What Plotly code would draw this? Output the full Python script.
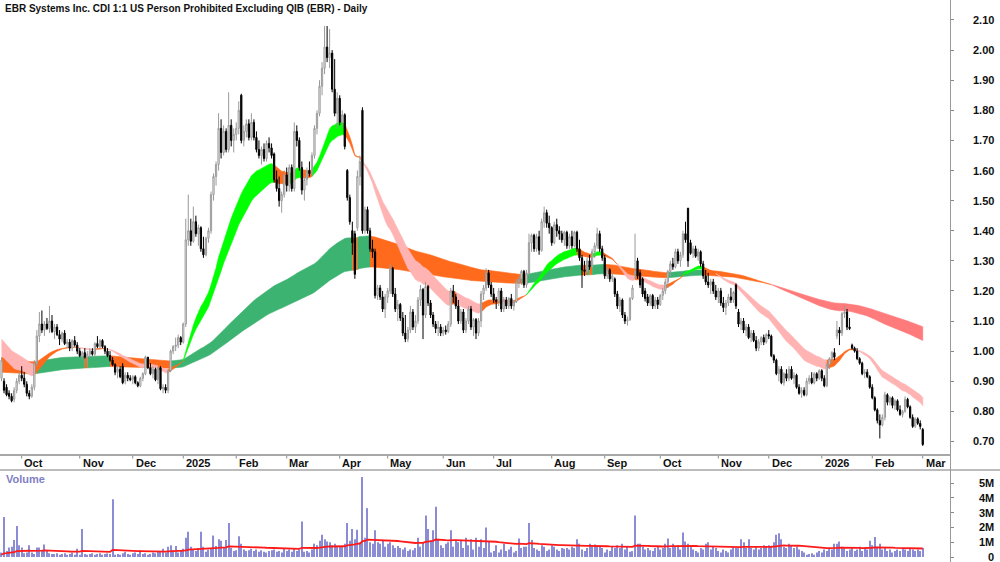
import numpy as np
import pandas as pd
import plotly.graph_objects as go

# ---------------- data (prices in cents, volume in thousands) ----------------
open_c = [
    91, 90, 88, 86, 85, 84, 87, 90,  # Sep 24
    92, 91, 89, 86, 85, 88, 96, 105, 109, 107, 109, 107.5, 110, 106.5, 108, 105.5, 104, 106, 102.5, 103, 101, 103.5, 102,  # Oct
    100, 98.5, 99.5, 98, 99, 100, 99, 102.5, 101.5, 103.5, 101.5, 100, 98.5, 97, 95.5, 93, 94, 95, 90, 92, 91,  # Nov
    90.5, 91.5, 89.5, 88.5, 91, 92.5, 98, 94.5, 92.5, 94, 90.5, 94.5, 87.5, 88, 87, 93.5, 100, 101.5, 102, 104.5,  # Dec
    103, 109, 137, 140, 136.5, 143, 139, 141, 134, 132, 137.5, 140, 152, 158, 162, 174, 166, 173, 167, 175, 170,  # Jan 25
    172, 174, 185, 170, 173, 175.5, 171, 176, 171, 167, 165, 167, 164, 169, 167.5, 165.5, 157, 154, 150, 152,  # Feb
    158.5, 155, 161, 154, 173, 170, 161, 153.5, 157, 160, 159, 165, 174, 179, 188, 194, 201, 197.5, 199, 187, 179,  # Mar
    184, 176, 178.5, 160, 151, 140, 139, 141, 158, 180, 140, 147, 140, 134, 133, 118.5, 121, 118, 114,  # Apr
    118, 120, 127.5, 119, 114, 115.5, 111, 106, 104, 107, 113, 108, 110, 117, 120.5, 112, 121.5, 116, 112, 109, 107.5, 108,  # May
    106, 107, 106.5, 109, 120, 118, 115, 110, 113, 107, 110, 114, 108, 110.5, 106, 110, 119, 121, 126, 122,  # Jun
    119, 117, 116.5, 120, 114, 117, 115, 117.5, 115, 116.5, 123, 124, 126.5, 122, 126, 136, 138.5, 134, 138, 133.5, 143, 146, 142.5,  # Jul
    141, 136, 142, 140, 139, 137, 139.5, 135, 138, 135, 139.5, 134, 131, 127, 126.5, 130, 128, 133, 135, 139, 134,  # Aug
    131, 125, 127, 124, 124, 119, 115, 117, 112, 110, 110.5, 117.5, 125.5, 130, 126, 124, 120, 118, 116, 118.5, 115, 117,  # Sep
    115.5, 118.5, 120, 123, 126.5, 129, 128, 133, 130, 132, 139, 147.5, 136, 132.5, 134, 131.5, 133, 129, 125, 123, 122, 123, 120,  # Oct
    118, 120, 116, 114.5, 116, 118, 117, 122, 113, 109, 110, 107, 108, 104.5, 106, 103.5, 101, 103, 104.5, 103,  # Nov
    105.5, 105, 98.5, 97, 92.5, 94, 89.5, 92.5, 91, 94, 91, 92, 88, 86, 87, 85.5, 90, 91, 89.5, 92.5, 91,  # Dec
    93.5, 91, 88.5, 95.5, 97.5, 99.5, 105, 107, 106, 112.5, 113, 108, 102, 101, 100, 97.5, 96, 92.5, 93, 91.5,  # Jan 26
    88, 84.5, 80.5, 77, 75.5, 78, 85.5, 83, 84.5, 82, 83.5, 80.5, 79, 80, 84, 81.5, 78, 75, 77.5, 76,  # Feb
    74,  # Mar
]
high_c = [
    98, 91, 89, 87, 86, 88, 91, 93,
    95, 93, 90, 87, 89, 97, 107, 113, 113.5, 110, 111, 115, 112, 109, 109, 107, 106.5, 107, 104, 104, 104, 105, 103,
    101, 100, 101, 100, 101, 101, 103, 105, 104, 104, 102, 101, 100, 98, 96, 95, 95, 96, 93, 93, 92,
    92, 92, 90, 91.5, 93, 98.5, 98, 96, 95, 94.5, 95, 95, 89, 89, 94, 100.5, 102, 104.5, 105.5, 105,
    109.5, 144, 152, 144, 148, 145, 142, 141.5, 138, 138, 141, 153, 159, 163, 179, 177, 175, 174, 186, 177, 174,
    176, 183, 185.5, 175, 177, 177, 179, 177, 173, 170, 168, 169, 170, 171, 169, 166, 160, 158, 153, 160,
    161, 162, 162, 176, 175, 171, 163, 158, 161, 163, 166, 175, 180, 190, 196, 208, 208, 207, 200, 197, 186,
    185, 180, 179, 160.5, 152, 143, 140, 160, 165, 181, 148, 148, 141, 137, 134, 122, 122, 120, 119,
    121, 129, 128, 121, 117, 116, 113, 112, 108, 115, 114, 112, 118, 122, 121, 123, 122, 117, 113, 110, 110, 109,
    108, 108.5, 110, 121, 122, 119, 117, 114, 114, 111, 115, 115, 111, 111, 111, 120, 122, 127.5, 127, 123,
    121, 118, 121, 121, 118, 118, 118, 119, 117, 124, 125, 127, 127, 127, 139, 139, 139, 139, 140, 144, 148, 147, 145,
    141.5, 143, 144, 141.5, 140, 140, 140, 139, 140, 140, 140, 137, 132, 130, 131, 132, 134, 136, 141, 140, 135,
    132, 128, 127.5, 126, 124.5, 120, 118, 117.5, 113, 111.5, 118, 122, 139, 131, 127, 124.5, 121, 119, 119, 119, 118, 118,
    119, 121, 124, 127, 130, 131, 134, 134, 133, 140, 143, 147.5, 137, 135, 135, 134, 133.5, 130, 127, 126, 124, 124, 122,
    121, 121, 118, 117, 119, 121, 120, 122.5, 114, 111, 111, 109, 109, 107, 107, 105, 104, 105, 105.5, 106,
    107, 105.5, 99, 97.5, 95, 95, 93, 94, 95, 95, 93, 92.5, 89, 88, 88, 91, 92, 93, 93, 93, 94,
    94, 92, 96, 98, 100, 101, 110, 108, 113, 115, 114, 111, 102.5, 101.5, 101, 98, 96.5, 94, 94, 92,
    89, 85, 81, 79, 79, 86.5, 86, 85, 85, 84, 84, 82, 80.5, 85, 84.5, 82, 79, 78, 78, 77,
    74.5,
]
low_c = [
    90, 86, 85, 84, 83, 83, 86, 89,
    90, 88, 85, 84, 84.5, 87, 95, 103, 106, 105, 107, 106, 106, 104, 105, 102, 103, 102, 101, 100, 100, 101.5, 99,
    98, 97, 97.5, 96, 98, 98.5, 98, 101, 100.5, 101, 99, 98, 96.5, 95, 92, 91, 91, 89, 89, 90, 90,
    89, 89, 88, 88, 90, 92, 94, 92, 91, 90, 89, 87, 86, 86, 86, 93, 99, 100, 101, 102,
    102.5, 108, 135, 135, 136, 138, 135, 133, 131, 131.5, 136, 139, 150, 155, 160, 164, 165, 166, 166, 168, 166,
    170, 172, 169, 168, 171, 170, 170, 170, 166, 164, 162, 163, 163, 166, 164, 156, 153, 148, 146, 151,
    153, 153, 153, 153, 168, 160, 152, 150, 155, 158, 158, 164, 172, 178, 185, 192, 196, 194, 186, 178, 174,
    175, 174, 167, 150, 142, 132, 124, 140, 155, 139, 139, 139, 133, 131, 117.5, 117, 117, 113, 111,
    116, 119, 118, 113, 110, 110, 105, 103, 103, 106, 107, 106, 109, 115, 104, 111, 115, 111, 108, 106, 105, 105,
    105, 105.5, 106, 108, 116, 114, 109, 109, 106, 106, 109, 107, 105, 104, 105, 108, 117, 120, 121, 118,
    116, 114, 115, 113, 113, 114, 114, 114, 113.5, 116, 121, 122, 121, 121, 125, 133, 133, 133, 132, 133, 141, 141, 139,
    135, 135.5, 138, 137, 136, 135, 134, 134, 134, 134.5, 133, 130, 121, 125, 126, 127, 127.5, 131, 134, 133, 130,
    124, 124, 123, 123, 118, 114, 113, 111, 109, 108.5, 110, 117, 124, 124, 121, 118, 116.5, 115, 115, 114, 114, 114,
    115, 117, 119, 121, 125, 127, 127.5, 129, 128, 131, 136, 128, 132, 131, 131, 130, 128, 124, 122, 121, 119, 119, 117,
    116, 115, 113, 112, 115, 116, 116, 114, 108, 107, 106, 105, 104, 103, 103, 100, 100, 102, 102, 102.5,
    104, 98, 96, 92, 90, 89, 88.5, 90, 90, 90.5, 89, 87.5, 85.5, 84.5, 85, 85, 89, 89, 89, 90, 90.5,
    90, 88, 88, 94, 96, 97, 104, 102, 105, 111, 107, 107, 100.5, 99.5, 97, 95.5, 92, 91, 91, 87.5,
    84, 80, 76, 71, 75, 77, 82, 82, 81, 80.5, 80, 78.5, 78, 79.5, 81, 77.5, 74.5, 74.5, 75.5, 74,
    68.5,
]
close_c = [
    97, 87, 85.5, 85, 83.5, 87, 90, 92,
    91, 89, 86, 85, 88, 96, 105, 109, 107, 109, 107.5, 110, 106.5, 108, 105.5, 104, 106, 102.5, 103, 101, 103.5, 102, 100,
    98.5, 99.5, 98, 99, 100, 99, 102.5, 101.5, 103.5, 101.5, 100, 98.5, 97, 95.5, 93, 94, 91.5, 89.5, 92, 91, 90.5,
    91.5, 89.5, 88.5, 91, 92.5, 98, 94.5, 92.5, 94, 90.5, 94.5, 87.5, 88, 87, 93.5, 100, 101.5, 102, 104.5, 103,
    109, 137, 140, 136.5, 143, 139, 141, 134, 132, 137.5, 140, 152, 158, 162, 174, 166, 173, 167, 175, 170, 172,
    174, 180, 170, 173, 175.5, 171, 176, 171, 167, 165, 167, 164, 169, 167.5, 165, 157, 154, 150, 152, 158.5,
    155, 161, 154, 173, 170, 161, 153.5, 157, 160, 159, 165, 174, 179, 188, 194, 201, 197.5, 199, 187, 179, 184,
    176, 178.5, 168, 151, 143, 136, 125.5, 158, 163, 140, 147, 140, 134, 133, 118.5, 121, 118, 114, 118,
    120, 127.5, 119, 114, 115.5, 111, 106, 104, 107, 113, 108, 110, 117, 120.5, 112, 121.5, 116, 112, 109, 107.5, 108, 106,
    107, 106.5, 109, 120, 118, 115, 110, 113, 107, 110, 114, 108, 110.5, 106, 110, 119, 121, 126, 122, 119,
    117, 116.5, 120, 114, 117, 115, 117.5, 115, 116.5, 123, 124, 126.5, 122, 126, 136, 138.5, 134, 138, 133.5, 143, 146, 142.5, 141,
    136, 142, 140, 139, 137, 139.5, 135, 138, 135, 139.5, 134, 131, 127, 126.5, 130, 128, 133, 135, 139, 134, 131,
    125, 127, 124, 125, 119, 115, 117, 112, 110, 110.5, 117.5, 121, 126.5, 125, 122, 119, 117.5, 116, 118.5, 115, 117, 115.5,
    118.5, 120, 123, 126.5, 129, 128, 133, 130, 132, 139, 137, 130, 132.5, 134, 131.5, 133, 129, 125, 123, 122, 123, 120, 118,
    120, 116, 114.5, 116, 118, 117, 119.5, 115, 109, 110, 107, 108, 104.5, 106, 103.5, 101, 103, 104.5, 103, 105.5,
    105, 98.5, 97, 92.5, 94, 89.5, 92.5, 91, 94, 91, 92, 88, 86, 87, 85.5, 90, 91, 89.5, 92.5, 91, 93.5,
    91, 88.5, 95.5, 97.5, 99.5, 98, 107, 106, 112.5, 113, 108, 107.5, 101, 100, 97.5, 96, 92.5, 93, 91.5, 88,
    84.5, 80.5, 77, 75.5, 78, 85.5, 83, 84.5, 82, 83.5, 80.5, 79, 80, 84, 81.5, 78, 75, 77.5, 76, 75,
    69,
]
volume_k = [
    300, 2700, 400, 650, 700, 1150, 2100, 800,
    650, 250, 300, 800, 300, 200, 650, 650, 450, 850, 400, 250, 200, 200, 250, 150, 200, 250, 150, 200, 300, 150, 550,
    150, 1900, 200, 150, 200, 250, 150, 200, 250, 150, 200, 250, 200, 3900, 150, 200, 150, 250, 350, 200, 150,
    250, 300, 200, 450, 200, 250, 150, 200, 300, 250, 400, 350, 550, 300, 700, 800, 450, 750, 300, 400,
    550, 1300, 1700, 700, 500, 400, 600, 1700, 700, 350, 500, 600, 1450, 750, 1200, 1100, 600, 1150, 2300, 600, 400,
    450, 1400, 900, 500, 400, 450, 550, 400, 500, 350, 450, 350, 300, 400, 450, 500, 350, 400, 300, 550,
    400, 500, 350, 600, 400, 500, 2400, 350, 400, 300, 500, 900, 800, 1100, 1500, 1200, 1050, 1000, 800, 900, 700,
    750, 700, 900, 2300, 1100, 1900, 1200, 1850, 1000, 5400, 1300, 3300, 1000, 900, 1800, 1000, 900, 1100, 700,
    900, 1000, 800, 600, 750, 600, 500, 650, 400, 500, 450, 600, 1300, 700, 1000, 2800, 1900, 1100, 1800, 3400, 1200, 800,
    600, 900, 1000, 1800, 700, 1100, 1000, 1100, 600, 1300, 800, 1200, 500, 1300, 700, 1200, 600, 2000, 1050, 300,
    400, 800, 300, 500, 900, 400, 500, 700, 300, 400, 1250, 600, 700, 700, 2300, 1150, 600, 500, 400, 800, 700, 400, 500,
    800, 700, 500, 400, 600, 550, 600, 500, 700, 600, 1200, 900, 500, 400, 600, 900, 800, 850, 700, 750, 600,
    300, 500, 400, 700, 600, 800, 600, 900, 500, 700, 350, 400, 2800, 900, 900, 700, 500, 600, 450, 400, 600, 700,
    500, 600, 900, 1250, 600, 900, 700, 800, 500, 1650, 1050, 900, 700, 500, 400, 300, 600, 500, 900, 1000, 500, 700, 600,
    400, 300, 500, 400, 300, 500, 700, 600, 600, 1200, 1000, 600, 1200, 600, 500, 700, 500, 600, 800, 700,
    800, 700, 1000, 1500, 1600, 1200, 700, 600, 900, 800, 600, 700, 500, 400, 300, 150, 200, 250, 150, 300, 400,
    300, 500, 400, 600, 500, 900, 900, 1050, 700, 600, 400, 500, 600, 400, 500, 700, 400, 600, 500, 1100,
    800, 1350, 700, 900, 500, 600, 400, 500, 300, 400, 500, 400, 600, 500, 400, 600, 500, 400, 500, 400,
    600,
]
holidays = ["2024-12-25", "2024-12-26", "2025-01-01", "2025-01-27", "2025-04-18", "2025-04-21",
            "2025-04-25", "2025-06-09", "2025-12-25", "2025-12-26", "2026-01-01", "2026-01-26"]
price_ticks = [0.70, 0.80, 0.90, 1.00, 1.10, 1.20, 1.30, 1.40, 1.50, 1.60, 1.70, 1.80, 1.90, 2.00, 2.10]
volume_ticks_m = [0, 1, 2, 3, 4, 5]
# moving-average settings and their values at the first bar
short_periods = (25, 35)
short_seed = (0.985, 1.04)
long_periods = (150, 220)
long_seed = (0.98, 0.93)
vol_ma_period = 50
vol_ma_seed = 150000

# ---------------- preparation ----------------
dates = pd.bdate_range("2024-09-19", "2026-03-02")
dates = dates[~dates.isin(pd.to_datetime(holidays))]
n = len(close_c)
lens = (len(open_c), len(high_c), len(low_c), len(close_c), len(volume_k), len(dates))
assert len(set(lens)) == 1, lens

o = np.array(open_c) / 100
h = np.array(high_c) / 100
l = np.array(low_c) / 100
c = np.array(close_c) / 100
v = np.array(volume_k) * 1000
x = np.arange(n)


def ema(vals, period, seed):
    a = 2.0 / (period + 1)
    out = [seed]
    for val in vals[1:]:
        out.append(out[-1] + a * (val - out[-1]))
    return np.array(out)


FONT = "Liberation Sans, Arial, sans-serif"
ORANGE = "#FF6A1C"


def ribbon(fast, slow, colors):
    traces = []
    states = []
    for i in range(len(fast)):
        d = fast[i] - fast[i - 1] if i > 0 else fast[1] - fast[0]
        if fast[i] >= slow[i] and d >= 0:
            states.append("up")
        elif fast[i] < slow[i] and d <= 0:
            states.append("down")
        else:
            states.append("mix")
    runs = []
    start = 0
    for i in range(1, len(states) + 1):
        if i == len(states) or states[i] != states[start]:
            runs.append((start, i - 1, states[start]))
            start = i
    for a, b, s in runs:
        e = min(b + 1, len(fast) - 1)
        xs = list(range(a, e + 1)) + list(range(e, a - 1, -1))
        ys = list(fast[a:e + 1]) + list(slow[a:e + 1])[::-1]
        traces.append(go.Scatter(x=xs, y=ys, mode="lines", fill="toself",
                                 fillcolor=colors[s], line=dict(color=colors[s], width=0.6),
                                 hoverinfo="skip", showlegend=False, xaxis="x", yaxis="y"))
    return traces


lf = ema(c, long_periods[0], long_seed[0])
ls = ema(c, long_periods[1], long_seed[1])
sf = ema(c, short_periods[0], short_seed[0])
ss = ema(c, short_periods[1], short_seed[1])
vma = ema(v, vol_ma_period, vol_ma_seed)

fig = go.Figure()
for t in ribbon(lf, ls, {"up": "#3CB371", "mix": ORANGE, "down": "#FF7A7A"}):
    fig.add_trace(t)
for t in ribbon(sf, ss, {"up": "#00FF00", "mix": ORANGE, "down": "#FFB3B3"}):
    fig.add_trace(t)

fig.add_trace(go.Candlestick(
    x=x, open=o, high=h, low=l, close=c, xaxis="x", yaxis="y3",
    increasing=dict(line=dict(color="#999999", width=1), fillcolor="#FFFFFF"),
    decreasing=dict(line=dict(color="#000000", width=1), fillcolor="#000000"),
    whiskerwidth=0, showlegend=False, hoverinfo="skip"))

fig.add_trace(go.Bar(x=x, y=v, width=0.42, marker=dict(color="#8C8CD4", line=dict(width=0)),
                     xaxis="x", yaxis="y2", showlegend=False, hoverinfo="skip"))
fig.add_trace(go.Scatter(x=x, y=vma, mode="lines", line=dict(color="#FF1A1A", width=1.8),
                         xaxis="x", yaxis="y2", showlegend=False, hoverinfo="skip"))

H = 562.0
def py(px):
    return 1 - px / H

price_range = [0.655, 2.1664]
vol_range = [-338000, 5880000]

annotations = []
shapes = []
# title & volume label
annotations.append(dict(text="EBR Systems Inc. CDI 1:1 US Person Prohibited Excluding QIB (EBR) - Daily",
                        xref="paper", yref="paper", x=0.003, y=py(8.5), xanchor="left", yanchor="middle",
                        showarrow=False, font=dict(family=FONT, size=10, color="#111111", weight="bold")))
annotations.append(dict(text="Volume", xref="paper", yref="paper", x=0.004, y=py(478.5),
                        xanchor="left", yanchor="middle", showarrow=False,
                        font=dict(family=FONT, size=11, color="#8080C4", weight="bold")))
# price labels
for p in price_ticks:
    annotations.append(dict(text=f"{p:.2f}", xref="paper", yref="y", x=0.996, y=p,
                            xanchor="right", yanchor="middle", showarrow=False,
                            font=dict(family=FONT, size=11, color="#111111", weight="bold")))
for m in volume_ticks_m:
    annotations.append(dict(text=(f"{m}M" if m else "0"), xref="paper", yref="y2", x=0.996, y=m * 1e6,
                            xanchor="right", yanchor="middle", showarrow=False,
                            font=dict(family=FONT, size=11, color="#111111", weight="bold")))
# month ticks & labels
prev = (dates[0].year, dates[0].month)
for i, d in enumerate(dates):
    key = (d.year, d.month)
    if key != prev:
        prev = key
        lab = str(d.year) if d.month == 1 else d.strftime("%b")
        shapes.append(dict(type="line", xref="x", yref="paper", x0=i, x1=i, y0=py(455), y1=py(458.5),
                           line=dict(color="#8A8A8A", width=1)))
        annotations.append(dict(text=lab, xref="x", yref="paper", x=i + 0.3, y=py(462.5),
                                xanchor="left", yanchor="middle", showarrow=False,
                                font=dict(family=FONT, size=11, color="#111111", weight="bold")))
# date strip borders and right axis line
shapes.append(dict(type="line", xref="paper", yref="paper", x0=0, x1=0.95, y0=py(455), y1=py(455),
                   line=dict(color="#A8A8A8", width=2)))
shapes.append(dict(type="line", xref="paper", yref="paper", x0=0, x1=1, y0=py(470), y1=py(470),
                   line=dict(color="#7A7A7A", width=1)))
shapes.append(dict(type="line", xref="paper", yref="paper", x0=0.9505, x1=0.9505, y0=0, y1=1,
                   line=dict(color="#9A9A9A", width=1)))

fig.update_layout(
    width=1000, height=562, margin=dict(l=0, r=0, t=0, b=0),
    paper_bgcolor="white", plot_bgcolor="white",
    showlegend=False, hovermode=False,
    xaxis=dict(domain=[0, 0.95], range=[-0.6, 375.8], visible=False, anchor="y",
               rangeslider=dict(visible=False)),
    yaxis=dict(domain=[py(455), 1], range=price_range, side="right", anchor="x",
               tickvals=price_ticks, showticklabels=False, ticks="outside", ticklen=3,
               tickcolor="#8A8A8A", showgrid=False, zeroline=False, showline=False),
    yaxis3=dict(overlaying="y", range=price_range, visible=False, anchor="x"),
    yaxis2=dict(domain=[0, py(470)], range=vol_range, side="right", anchor="x",
                tickvals=[m * 1e6 for m in volume_ticks_m], showticklabels=False, ticks="outside",
                ticklen=3, tickcolor="#8A8A8A", showgrid=False, zeroline=False, showline=False),
    annotations=annotations, shapes=shapes,
)

fig.write_html("out.html")
